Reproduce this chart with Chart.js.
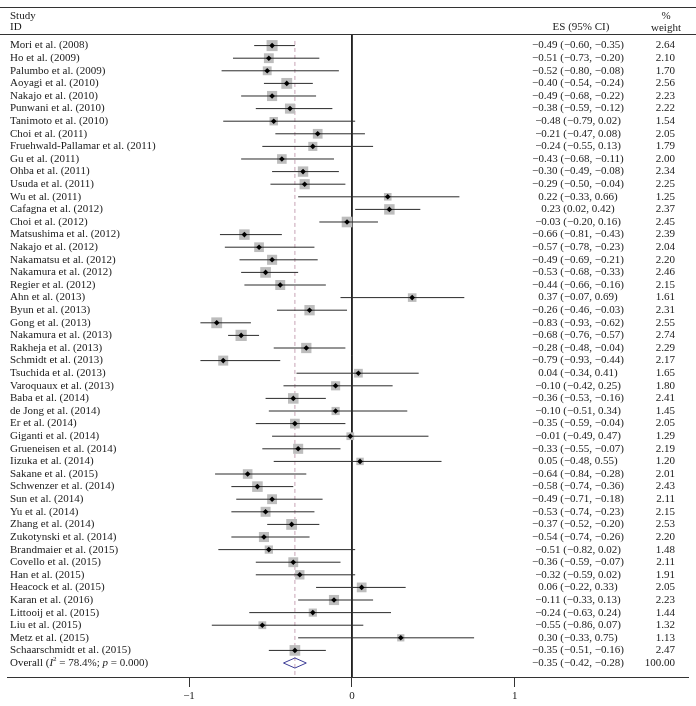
<!DOCTYPE html>
<html>
<head>
<meta charset="utf-8">
<script src="https://cdn.jsdelivr.net/npm/chart.js@4.4.0/dist/chart.umd.min.js"></script>
<style>
  html, body { margin: 0; padding: 0; background: #fff; }
  canvas { display: block; }
</style>
</head>
<body>
<canvas id="forest" width="696" height="706"></canvas>
<script>
// study rows, top to bottom
const studies = [
  'Mori et al. (2008)', 'Ho et al. (2009)', 'Palumbo et al. (2009)', 'Aoyagi et al. (2010)',
  'Nakajo et al. (2010)', 'Punwani et al. (2010)', 'Tanimoto et al. (2010)', 'Choi et al. (2011)',
  'Fruehwald-Pallamar et al. (2011)', 'Gu et al. (2011)', 'Ohba et al. (2011)', 'Usuda et al. (2011)',
  'Wu et al. (2011)', 'Cafagna et al. (2012)', 'Choi et al. (2012)', 'Matsushima et al. (2012)',
  'Nakajo et al. (2012)', 'Nakamatsu et al. (2012)', 'Nakamura et al. (2012)', 'Regier et al. (2012)',
  'Ahn et al. (2013)', 'Byun et al. (2013)', 'Gong et al. (2013)', 'Nakamura et al. (2013)',
  'Rakheja et al. (2013)', 'Schmidt et al. (2013)', 'Tsuchida et al. (2013)', 'Varoquaux et al. (2013)',
  'Baba et al. (2014)', 'de Jong et al. (2014)', 'Er et al. (2014)', 'Giganti et al. (2014)',
  'Grueneisen et al. (2014)', 'Iizuka et al. (2014)', 'Sakane et al. (2015)', 'Schwenzer et al. (2014)',
  'Sun et al. (2014)', 'Yu et al. (2014)', 'Zhang et al. (2014)', 'Zukotynski et al. (2014)',
  'Brandmaier et al. (2015)', 'Covello et al. (2015)', 'Han et al. (2015)', 'Heacock et al. (2015)',
  'Karan et al. (2016)', 'Littooij et al. (2015)', 'Liu et al. (2015)', 'Metz et al. (2015)',
  'Schaarschmidt et al. (2015)'
];
const es = [
  -0.49, -0.51, -0.52, -0.40, -0.49, -0.38, -0.48, -0.21, -0.24, -0.43, -0.30, -0.29,
  0.22, 0.23, -0.03, -0.66, -0.57, -0.49, -0.53, -0.44, 0.37, -0.26, -0.83, -0.68,
  -0.28, -0.79, 0.04, -0.10, -0.36, -0.10, -0.35, -0.01, -0.33, 0.05, -0.64, -0.58,
  -0.49, -0.53, -0.37, -0.54, -0.51, -0.36, -0.32, 0.06, -0.11, -0.24, -0.55, 0.30, -0.35
];
const ciLow = [
  -0.60, -0.73, -0.80, -0.54, -0.68, -0.59, -0.79, -0.47, -0.55, -0.68, -0.49, -0.50,
  -0.33, 0.02, -0.20, -0.81, -0.78, -0.69, -0.68, -0.66, -0.07, -0.46, -0.93, -0.76,
  -0.48, -0.93, -0.34, -0.42, -0.53, -0.51, -0.59, -0.49, -0.55, -0.48, -0.84, -0.74,
  -0.71, -0.74, -0.52, -0.74, -0.82, -0.59, -0.59, -0.22, -0.33, -0.63, -0.86, -0.33, -0.51
];
const ciHigh = [
  -0.35, -0.20, -0.08, -0.24, -0.22, -0.12, 0.02, 0.08, 0.13, -0.11, -0.08, -0.04,
  0.66, 0.42, 0.16, -0.43, -0.23, -0.21, -0.33, -0.16, 0.69, -0.03, -0.62, -0.57,
  -0.04, -0.44, 0.41, 0.25, -0.16, 0.34, -0.04, 0.47, -0.07, 0.55, -0.28, -0.36,
  -0.18, -0.23, -0.20, -0.26, 0.02, -0.07, 0.02, 0.33, 0.13, 0.24, 0.07, 0.75, -0.16
];
const weights = [
  2.64, 2.10, 1.70, 2.56, 2.23, 2.22, 1.54, 2.05, 1.79, 2.00, 2.34, 2.25,
  1.25, 2.37, 2.45, 2.39, 2.04, 2.20, 2.46, 2.15, 1.61, 2.31, 2.55, 2.74,
  2.29, 2.17, 1.65, 1.80, 2.41, 1.45, 2.05, 1.29, 2.19, 1.20, 2.01, 2.43,
  2.11, 2.15, 2.53, 2.20, 1.48, 2.11, 1.91, 2.05, 2.23, 1.44, 1.32, 1.13, 2.47
];
const overallEs = -0.35;
const overallLow = -0.42;
const overallHigh = -0.28;
const overallWeight = 100.00;
const xTicks = [-1, 0, 1];

const overallRow = studies.length;
const yMin = -0.92;
const yMax = 50.11;
const serif = '"Liberation Serif", "DejaVu Serif", serif';

function fmt(v) {
  return v.toFixed(2).replace('-', '\u2212');
}

// CI segments in one line dataset, broken by null points
const ciData = [];
studies.forEach((s, i) => {
  ciData.push({ x: ciLow[i], y: i }, { x: ciHigh[i], y: i }, { x: null, y: null });
});
const pointData = es.map((v, i) => ({ x: v, y: i }));
const diamondData = [
  { x: overallLow, y: overallRow },
  { x: overallEs, y: overallRow - 0.4 },
  { x: overallHigh, y: overallRow },
  { x: overallEs, y: overallRow + 0.4 },
  { x: overallLow, y: overallRow }
];

const textPlugin = {
  id: 'forestText',
  afterDraw(chart) {
    const { ctx, chartArea, scales } = chart;
    const y = scales.y;
    ctx.save();
    ctx.strokeStyle = '#333';
    ctx.lineWidth = 1;
    ctx.beginPath();
    ctx.moveTo(0, 7.5);
    ctx.lineTo(chart.width, 7.5);
    ctx.moveTo(0, Math.round(chartArea.top) + 0.5);
    ctx.lineTo(chart.width, Math.round(chartArea.top) + 0.5);
    ctx.stroke();

    ctx.fillStyle = '#1a1a1a';
    ctx.font = '11px ' + serif;
    ctx.textBaseline = 'middle';

    // header
    ctx.textAlign = 'left';
    ctx.fillText('Study', 10, 16);
    ctx.fillText('ID', 10, 27);
    ctx.textAlign = 'center';
    ctx.fillText('ES (95% CI)', 581, 27);
    ctx.fillText('%', 666, 16);
    ctx.fillText('weight', 666, 28);

    studies.forEach((name, i) => {
      const py = y.getPixelForValue(i);
      ctx.textAlign = 'left';
      ctx.fillText(name, 10, py);
      ctx.textAlign = 'center';
      ctx.fillText(fmt(es[i]) + ' (' + fmt(ciLow[i]) + ', ' + fmt(ciHigh[i]) + ')', 578, py);
      ctx.textAlign = 'right';
      ctx.fillText(weights[i].toFixed(2), 675, py);
    });

    // overall row with italic I, p and superscript 2
    const oy = y.getPixelForValue(overallRow);
    ctx.textAlign = 'left';
    const parts = [
      ['Overall (', '11px ' + serif, 0],
      ['I', 'italic 11px ' + serif, 0],
      ['2', '7px ' + serif, -4],
      [' = 78.4%; ', '11px ' + serif, 0],
      ['p', 'italic 11px ' + serif, 0],
      [' = 0.000)', '11px ' + serif, 0]
    ];
    let px = 10;
    parts.forEach(([t, f, dy]) => {
      ctx.font = f;
      ctx.fillText(t, px, oy + dy);
      px += ctx.measureText(t).width;
    });
    ctx.font = '11px ' + serif;
    ctx.textAlign = 'center';
    ctx.fillText(fmt(overallEs) + ' (' + fmt(overallLow) + ', ' + fmt(overallHigh) + ')', 578, oy);
    ctx.textAlign = 'right';
    ctx.fillText(overallWeight.toFixed(2), 675, oy);
    ctx.restore();
  }
};

const forestChart = new Chart(document.getElementById('forest'), {
  type: 'scatter',
  data: {
    datasets: [
      {
        // point estimates
        data: pointData,
        pointStyle: 'rectRot',
        pointRadius: 2.8,
        backgroundColor: '#000',
        borderWidth: 0
      },
      {
        // pooled estimate
        type: 'line',
        data: diamondData,
        borderColor: '#3c3c96',
        borderWidth: 1,
        pointRadius: 0,
        fill: false,
        tension: 0
      },
      {
        // confidence intervals
        type: 'line',
        data: ciData,
        borderColor: '#2b2b2b',
        borderWidth: 1,
        pointRadius: 0,
        spanGaps: false,
        fill: false
      },
      {
        // weight boxes
        data: pointData,
        pointStyle: 'rect',
        pointRadius: weights.map(w => 4.8 * Math.sqrt(w)),
        backgroundColor: '#bdbdbd',
        borderWidth: 0
      },
      {
        // overall effect line
        type: 'line',
        data: [{ x: overallEs, y: -0.37 }, { x: overallEs, y: yMax }],
        borderColor: '#c7a3b6',
        borderWidth: 1,
        borderDash: [4, 3],
        pointRadius: 0
      },
      {
        // line of no effect
        type: 'line',
        data: [{ x: 0, y: yMin }, { x: 0, y: yMax }],
        borderColor: '#111',
        borderWidth: 1,
        pointRadius: 0
      }
    ]
  },
  options: {
    responsive: false,
    animation: false,
    events: [],
    layout: { padding: { top: 34, left: 0, right: 0, bottom: 0 } },
    plugins: {
      legend: { display: false },
      tooltip: { enabled: false }
    },
    scales: {
      x: {
        type: 'linear',
        min: -352 / 166.7,
        max: 344 / 166.7,
        afterBuildTicks: (axis) => {
          axis.ticks = xTicks.map(v => ({ value: v }));
        },
        afterFit: (axis) => {
          axis.height = 29;
        },
        grid: {
          display: true,
          drawOnChartArea: false,
          drawTicks: true,
          tickLength: 10,
          color: '#333'
        },
        border: { display: true, color: '#333', width: 1 },
        ticks: {
          padding: 3,
          color: '#1a1a1a',
          font: { family: serif, size: 11 },
          maxRotation: 0,
          autoSkip: false,
          callback: (v) => String(v).replace('-', '\u2212')
        }
      },
      y: {
        type: 'linear',
        display: false,
        reverse: true,
        min: yMin,
        max: yMax
      }
    }
  },
  plugins: [textPlugin]
});
</script>
</body>
</html>
